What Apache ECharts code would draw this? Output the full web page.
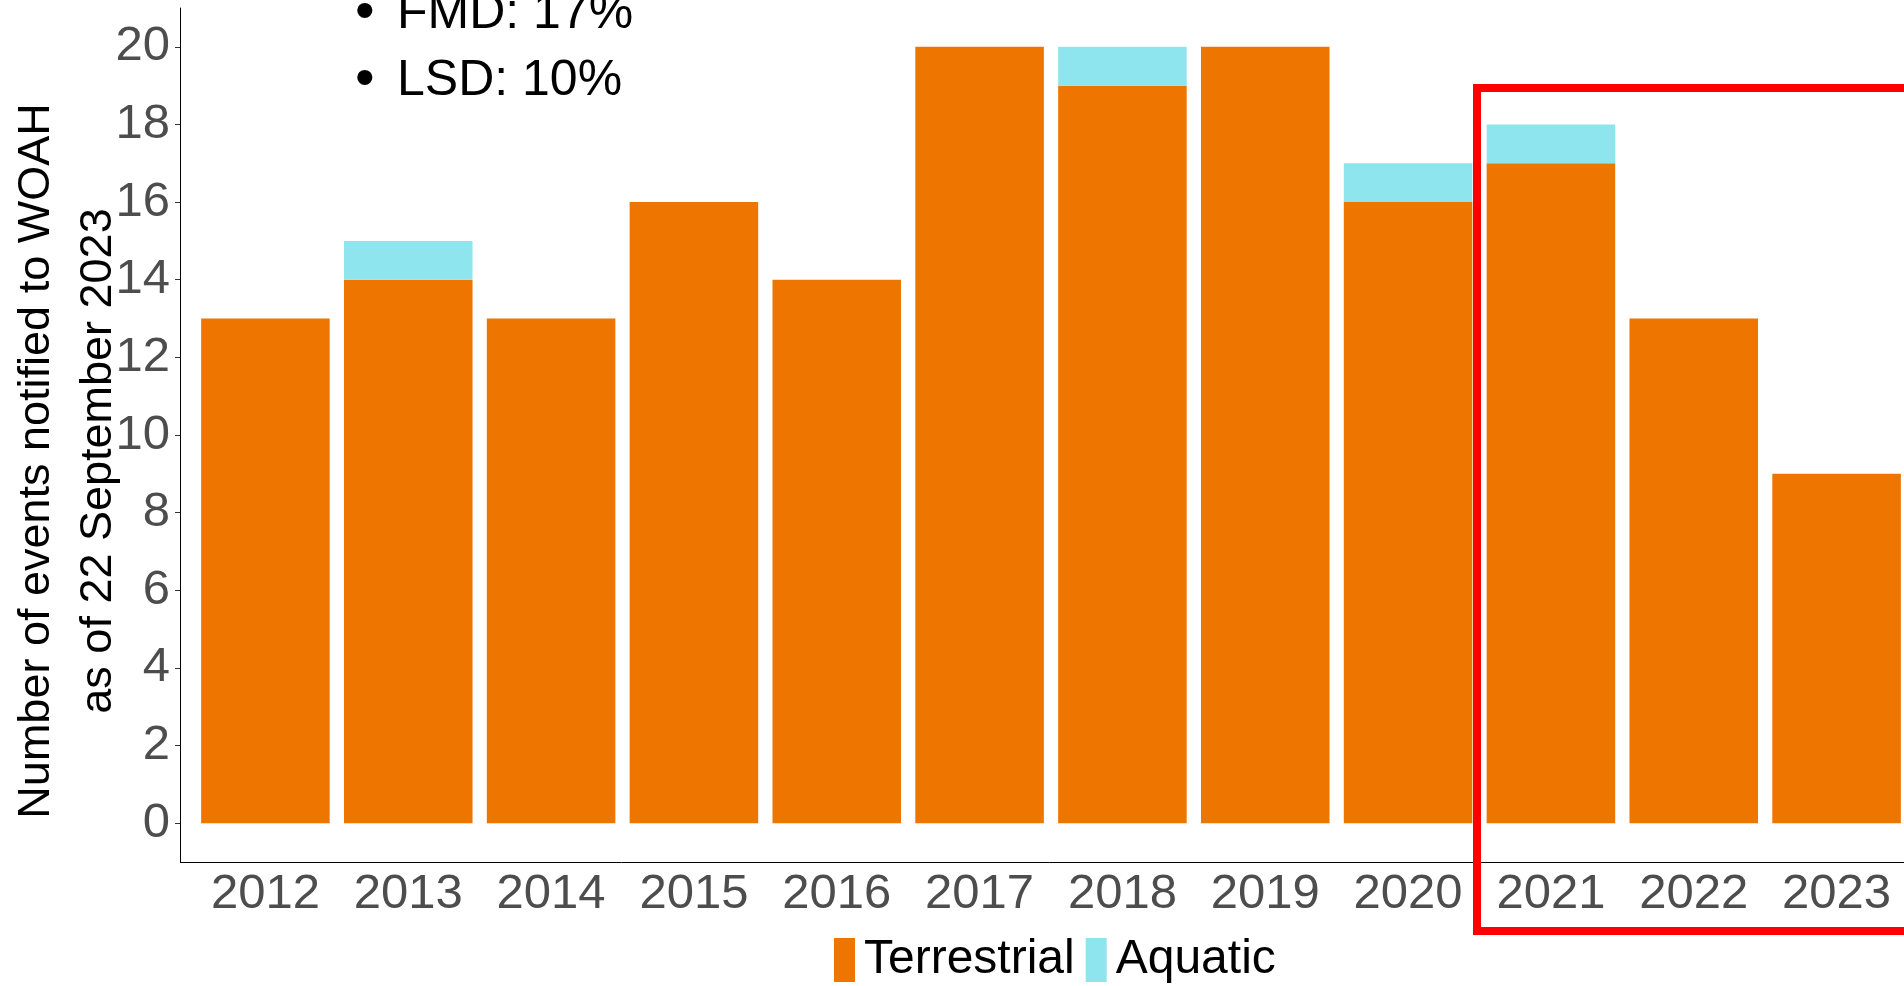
<!DOCTYPE html>
<html>
<head>
<meta charset="utf-8">
<script src="https://cdn.jsdelivr.net/npm/echarts@6/dist/echarts.min.js"></script>
<style>
  html, body { margin: 0; padding: 0; background: #fff; }
  #chart { width: 1904px; height: 986px; }
</style>
</head>
<body>
<div id="chart"></div>
<script>
// ---- data ----
const years = ['2012', '2013', '2014', '2015', '2016', '2017', '2018', '2019', '2020', '2021', '2022', '2023'];
const terrestrial = [13, 14, 13, 16, 14, 20, 19, 20, 16, 17, 13, 9];
const aquatic = [0, 1, 0, 0, 0, 0, 1, 0, 1, 1, 0, 0];
const yTicks = [0, 2, 4, 6, 8, 10, 12, 14, 16, 18, 20];
const seriesNames = ['Terrestrial', 'Aquatic'];
const notes = ['FMD: 17%', 'LSD: 10%'];
const yTitle = 'Number of events notified to WOAH\nas of 22 September 2023';

// ---- layout ----
const GRID_LEFT = 194, GRID_RIGHT = -4, GRID_TOP = 8, GRID_BOTTOM = 124;
const Y_OFFSET = 14;
const FONT = '"Liberation Sans", Arial, sans-serif';
const NOTE_FONT = '"Liberation Sans", Arial, sans-serif';
const axisY = 986 - GRID_BOTTOM;

const chart = echarts.init(document.getElementById('chart'), null, { renderer: 'canvas' });

const graphics = [
  // extend x axis line to the y axis (ggplot discrete expansion)
  { type: 'line', shape: { x1: GRID_LEFT - Y_OFFSET, y1: axisY + 0.5, x2: GRID_LEFT, y2: axisY + 0.5 },
    style: { stroke: '#000', lineWidth: 1 }, z: 10 },
  // red highlight rectangle (annotation)
  { type: 'rect', shape: { x: 1477, y: 88, width: 700, height: 843 },
    style: { fill: 'none', stroke: '#FF0000', lineWidth: 8 }, z: 20 }
];
notes.forEach(function (t, i) {
  const y = 14 + i * 67;
  graphics.push({ type: 'text', x: 355, y: y, z: 20,
    style: { text: '\u2022', font: '56px ' + NOTE_FONT, fill: '#000', align: 'left', verticalAlign: 'middle' } });
  graphics.push({ type: 'text', x: 397, y: y, z: 20,
    style: { text: t, font: '50px ' + NOTE_FONT, fill: '#000', align: 'left', verticalAlign: 'middle' } });
});

const option = {
  animation: false,
  backgroundColor: '#ffffff',
  grid: { left: GRID_LEFT, right: GRID_RIGHT, top: GRID_TOP, bottom: GRID_BOTTOM, containLabel: false, outerBoundsMode: 'none' },
  legend: {
    data: seriesNames,
    left: 834, top: 936,
    padding: 0,
    orient: 'horizontal',
    icon: 'rect',
    itemWidth: 21, itemHeight: 44, itemGap: 11,
    textStyle: { fontSize: 48, color: '#000', fontFamily: FONT, padding: [0, 0, 0, 4] }
  },
  xAxis: {
    type: 'category',
    data: years,
    boundaryGap: true,
    axisLine: { onZero: false, lineStyle: { color: '#000', width: 1 } },
    axisTick: { alignWithLabel: true, length: 5, lineStyle: { color: '#333' } },
    axisLabel: { fontSize: 49, color: '#4D4D4D', fontFamily: FONT, margin: 8, interval: 0 },
    splitLine: { show: false }
  },
  yAxis: {
    type: 'value',
    min: -1, max: 21,
    offset: Y_OFFSET,
    name: yTitle,
    nameLocation: 'middle',
    nameGap: 50,
    nameMoveOverlap: false,
    nameTextStyle: { fontSize: 45, color: '#000', fontFamily: FONT, lineHeight: 62, padding: [0, 52, 0, 0] },
    axisLine: { show: true, onZero: false, lineStyle: { color: '#000', width: 1 } },
    axisTick: { show: true, length: 5, customValues: yTicks, lineStyle: { color: '#333' } },
    axisLabel: { fontSize: 49, color: '#4D4D4D', fontFamily: FONT, margin: 10, customValues: yTicks },
    splitLine: { show: false }
  },
  series: [
    { name: seriesNames[0], type: 'bar', stack: 'total', data: terrestrial, barWidth: '90%',
      itemStyle: { color: '#EE7600' } },
    { name: seriesNames[1], type: 'bar', stack: 'total', data: aquatic, barWidth: '90%',
      itemStyle: { color: '#8EE5EE' } }
  ],
  graphic: graphics
};
chart.setOption(option);
</script>
</body>
</html>
